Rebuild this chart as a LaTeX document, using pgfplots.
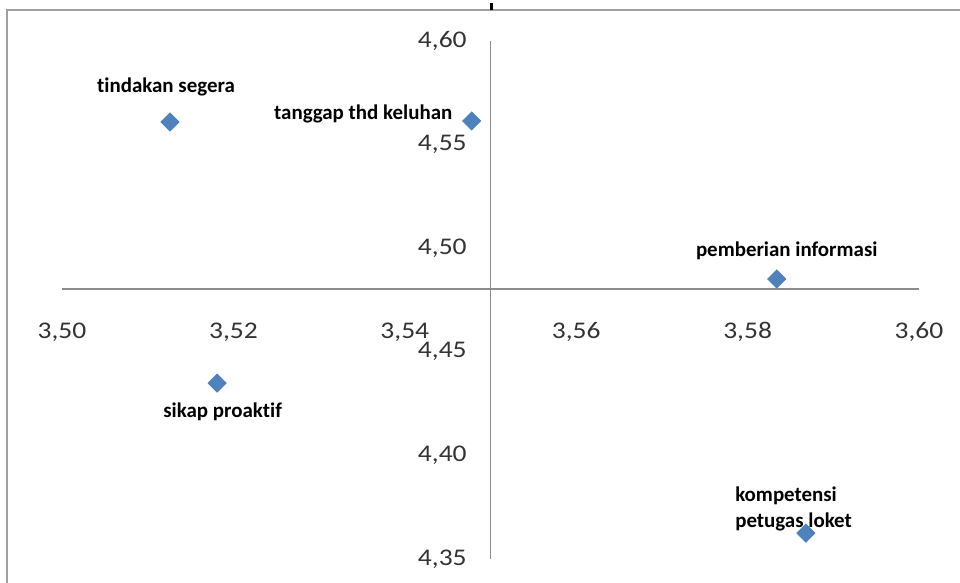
\documentclass[border=0pt]{standalone}
\usepackage{pgfplots}
\pgfplotsset{compat=1.18}
\usepackage{fontspec}
\setmainfont{Carlito}[Ligatures=NoCommon]
\newfontfamily\ticksfont[FakeStretch=1.15, Ligatures=NoCommon]{Carlito}

\definecolor{markblue}{HTML}{4F81BD}
\definecolor{axisgray}{HTML}{8C8C8C}
\definecolor{framegray}{HTML}{A0A0A0}
\definecolor{ticktext}{HTML}{333333}

\tikzset{
  pointlabel/.style={font=\bfseries\fontsize{10.5}{13}\selectfont, text=black, inner sep=0pt},
}
\pgfplotsset{
  pointmark/.style={only marks, mark=square*, mark size=3.2bp,
    mark options={rotate=45, fill=markblue, draw=markblue}},
}

\begin{document}
\begin{tikzpicture}
\useasboundingbox (0,0) rectangle (480bp,291.5bp);
% chart area border, running past the right and bottom edges
\begin{scope}
  \clip (0,0) rectangle (480bp,291.5bp);
  \draw[framegray, line width=1bp] (3.5bp,-10bp) -- (3.5bp,286.5bp) -- (500bp,286.5bp);
\end{scope}
\draw[black, line width=1.5bp] (245.5bp,286.5bp) -- (245.5bp,290bp);

\begin{axis}[
  at={(31bp,271bp)}, anchor=north west,
  scale only axis, width=428.5bp, height=259bp,
  xmin=3.50, xmax=3.60, ymin=4.35, ymax=4.60,
  clip=false,
  axis line style={draw=none},
  major tick length=0pt,
  xtick={3.50,3.52,3.54,3.56,3.58,3.60},
  ytick={4.35,4.40,4.45,4.50,4.55,4.60},
  /pgf/number format/fixed,
  /pgf/number format/fixed zerofill,
  /pgf/number format/precision=2,
  /pgf/number format/use comma,
  /pgf/number format/1000 sep={},
  /pgf/number format/assume math mode=true,
  xticklabel={\pgfmathprintnumber{\tick}},
  yticklabel={\pgfmathprintnumber{\tick}},
  xticklabel style={anchor=center, inner sep=0pt, yshift=113.5bp,
    font=\ticksfont\fontsize{12}{12}\selectfont, text=ticktext},
  yticklabel style={anchor=east, inner sep=0pt, xshift=202.5bp,
    font=\ticksfont\fontsize{12}{12}\selectfont, text=ticktext},
]
% axes crossing at (3.55; 4.48)
\addplot[axisgray, line width=0.7bp] coordinates {(3.50,4.4803) (3.60,4.4803)};
\addplot[axisgray, line width=0.7bp] coordinates {(3.55,4.60) (3.55,4.35)};

% attributes
\addplot[pointmark, nodes near coords={tindakan segera},
  nodes near coords style={pointlabel, anchor=center, xshift=-2bp, yshift=17.5bp}]
  coordinates {(3.5126,4.5609)};
\addplot[pointmark, nodes near coords={tanggap thd keluhan},
  nodes near coords style={pointlabel, anchor=east, xshift=-9.5bp, yshift=3.5bp}]
  coordinates {(3.5478,4.5614)};
\addplot[pointmark, nodes near coords={pemberian informasi},
  nodes near coords style={pointlabel, anchor=center, xshift=5bp, yshift=14bp}]
  coordinates {(3.5834,4.4851)};
\addplot[pointmark, nodes near coords={sikap proaktif},
  nodes near coords style={pointlabel, anchor=center, xshift=2.75bp, yshift=-14.25bp}]
  coordinates {(3.5181,4.4349)};
\addplot[pointmark, nodes near coords={kompetensi\\petugas loket},
  nodes near coords style={pointlabel, align=left, anchor=west, xshift=-35.5bp, yshift=12bp}]
  coordinates {(3.5868,4.3625)};
\end{axis}
\end{tikzpicture}
\end{document}
